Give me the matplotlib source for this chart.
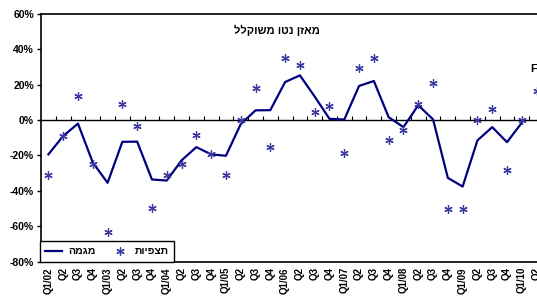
import numpy as np
import matplotlib

matplotlib.use('Agg')
import matplotlib.pyplot as plt
from matplotlib.ticker import FuncFormatter


def heb(s):
    # matplotlib has no bidi support, so hebrew is flipped for display
    return s[::-1]


quarters = ['Q1/02', 'Q2', 'Q3', 'Q4', 'Q1/03', 'Q2', 'Q3', 'Q4',
            'Q1/04', 'Q2', 'Q3', 'Q4', 'Q1/05', 'Q2', 'Q3', 'Q4',
            'Q1/06', 'Q2', 'Q3', 'Q4', 'Q1/07', 'Q2', 'Q3', 'Q4',
            'Q1/08', 'Q2', 'Q3', 'Q4', 'Q1/09', 'Q2', 'Q3', 'Q4',
            'Q1/10', 'Q2']

# trend (magma), ends at Q1/10
trend = [-19.4, -9, -2, -24, -35.5, -12.3, -12.2, -33.6,
         -34.2, -22.8, -15.3, -19.4, -20.2, -2.3, 5.5, 5.6,
         21.5, 25.3, 13.3, 0.7, 0.3, 19.3, 22.1, 1.6,
         -4, 8.4, 0.4, -32.7, -37.6, -11.5, -4, -12.5,
         -1.5]

# observations (tatzpiot)
obs = [-30.8, -9.1, 13.6, -24.7, -63.5, 9.3, -3.6, -50,
       -30.8, -24.7, -8.5, -19.4, -30.8, 0, 18.3, -15.1,
       35, 31.2, 4.7, 7.9, -18.5, 29.6, 35.3, -11.3,
       -5.7, 8.9, 21.1, -50.2, -50.2, 0, 6, -28,
       0, 16.4]

title = 'מאזן נטו משוקלל'
lbl_trend = 'מגמה'
lbl_obs = 'תצפיות'

plt.rcParams['font.family'] = ['Liberation Sans', 'DejaVu Sans']
plt.rcParams['font.weight'] = 'bold'

fig = plt.figure(figsize=(5.37, 3.04), dpi=100)
ax = fig.add_axes([41 / 537, 1 - 261.5 / 304, 503 / 537, 247.5 / 304])

x = np.arange(len(quarters))
ax.plot(x[:len(trend)], trend, color='#000080', lw=1.6, label=heb(lbl_trend), zorder=3)
ax.plot(x, obs, ls='none', marker=(6, 2, 0), ms=6, mew=0.9, color='#3a3aa0',
        label=heb(lbl_obs), zorder=4)

ax.set_xlim(-0.5, len(quarters) - 0.5)
ax.set_ylim(-80, 60)
ax.set_yticks(np.arange(-80, 61, 20))
ax.yaxis.set_major_formatter(FuncFormatter(lambda v, p: '%d%%' % v))
ax.tick_params(axis='y', labelsize=7.5, length=3, width=1, pad=2)

ax.set_xticks(x)
ax.set_xticklabels(quarters, rotation=90, fontsize=7, fontweight='bold')
ax.tick_params(axis='x', length=0, pad=4)

# category axis crosses at zero
ax.axhline(0, color='black', lw=1, zorder=2)
ax.vlines(x[:-1] + 0.5, 0, 2.5, color='black', lw=0.8, zorder=2)

for side in ['left', 'top', 'bottom', 'right']:
    ax.spines[side].set_linewidth(1.2)

ax.text(0.47, 0.955, heb(title), transform=ax.transAxes, ha='center', va='top',
        fontsize=8, fontweight='bold')
ax.text(len(quarters) - 1.45, 27, 'F', fontsize=8, fontweight='bold', clip_on=False)

leg = ax.legend(loc='lower left', bbox_to_anchor=(-0.002, 0), ncol=2, fontsize=7.5,
                frameon=True, fancybox=False, edgecolor='black', framealpha=1,
                borderaxespad=0, handlelength=1.6, columnspacing=1.6, handletextpad=0.6,
                borderpad=0.5)
leg.get_frame().set_linewidth(1)

plt.savefig('out.png', dpi=100)
